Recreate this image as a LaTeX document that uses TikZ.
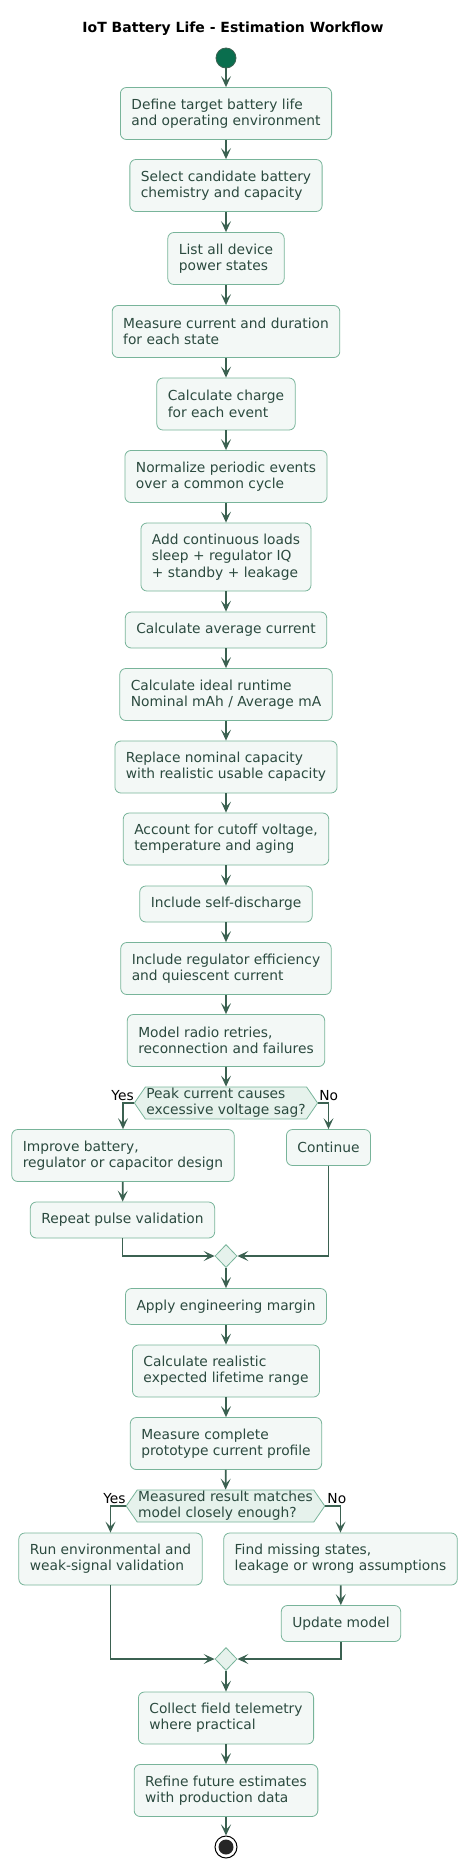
\documentclass[tikz,border=0pt]{standalone}
\usepackage{fontspec}
\setmainfont{DejaVu Sans}
\usepackage{xcolor}
\usetikzlibrary{arrows.meta,shapes.geometric,shapes.symbols}
\definecolor{boxline}{HTML}{78B49A}
\definecolor{boxfill}{HTML}{F3F8F6}
\definecolor{boxtext}{HTML}{2B4A3F}
\definecolor{flowline}{HTML}{3B6151}
\definecolor{decfill}{HTML}{E6F2EC}
\definecolor{startfill}{HTML}{0A6E4E}
\newcommand{\boxfont}{\fontsize{13.8pt}{16.3pt}\selectfont}
\tikzset{
  act/.style={draw=boxline, fill=boxfill, line width=0.8pt, rounded corners=6pt,
    text=boxtext, align=left, inner xsep=11pt, inner ysep=3pt,
    minimum height=36pt, font=\boxfont},
  acttwo/.style={act, minimum height=52pt},
  actthree/.style={act, minimum height=68pt},
  dec/.style={signal, signal to=west and east, signal pointer angle=111,
    draw=boxline, fill=decfill, line width=0.8pt, text=boxtext, align=left,
    inner xsep=1pt, inner ysep=1pt, minimum height=32pt, font=\boxfont},
  merge/.style={diamond, draw=boxline, fill=decfill, line width=0.8pt,
    minimum width=22pt, minimum height=23pt, inner sep=0pt},
  flow/.style={draw=flowline, line width=1.8pt,
    -{Stealth[length=11pt,width=10pt,inset=5pt]}},
  lbl/.style={font=\boxfont, text=black, inner sep=0pt}
}
\begin{document}
\begin{tikzpicture}[x=1pt,y=-1pt]
\useasboundingbox (0,0) rectangle (468,1868);
\node[lbl, font=\fontsize{14pt}{16pt}\selectfont\bfseries, anchor=base] (title) at (233,33) {IoT Battery Life - Estimation Workflow};
% start and main column
\node[circle, draw=flowline, fill=startfill, line width=0.8pt, minimum size=20pt, inner sep=0pt] (s0) at (226,58) {};
\node[acttwo] (a1) at (226,113.5) {Define target battery life\\and operating environment};
\node[acttwo] (a2) at (226,185.5) {Select candidate battery\\chemistry and capacity};
\node[acttwo] (a3) at (226,258.5) {List all device\\power states};
\node[acttwo] (a4) at (226,331.5) {Measure current and duration\\for each state};
\node[acttwo] (a5) at (226,404) {Calculate charge\\for each event};
\node[acttwo] (a6) at (226,476.5) {Normalize periodic events\\over a common cycle};
\node[actthree] (a7) at (226,557) {Add continuous loads\\sleep + regulator IQ\\+ standby + leakage};
\node[act] (a8) at (226,630) {Calculate average current};
\node[acttwo] (a9) at (226,694.5) {Calculate ideal runtime\\Nominal mAh / Average mA};
\node[acttwo] (a10) at (226,767) {Replace nominal capacity\\with realistic usable capacity};
\node[acttwo] (a11) at (226,839) {Account for cutoff voltage,\\temperature and aging};
\node[act] (a12) at (226,904) {Include self-discharge};
\node[acttwo] (a13) at (226,968.5) {Include regulator efficiency\\and quiescent current};
\node[acttwo] (a14) at (226,1040.5) {Model radio retries,\\reconnection and failures};
% first decision
\node[dec] (d1) at (226,1103) {Peak current causes\\excessive voltage sag?};
\node[lbl, anchor=base east] (y1) at ([yshift=3pt]d1.west) {Yes};
\node[lbl, anchor=base west] (n1) at ([xshift=1pt,yshift=3pt]d1.east) {No};
\node[acttwo] (a15) at (123,1155.5) {Improve battery,\\regulator or capacitor design};
\node[act] (a16) at (122.5,1220) {Repeat pulse validation};
\node[act] (a17) at (328.5,1147.5) {Continue};
\node[merge] (m1) at (226,1256) {};
\node[act] (a18) at (226,1306.5) {Apply engineering margin};
\node[acttwo] (a19) at (226,1371) {Calculate realistic\\expected lifetime range};
\node[acttwo] (a20) at (226,1443.5) {Measure complete\\prototype current profile};
% second decision
\node[dec] (d2) at (225.5,1506) {Measured result matches\\model closely enough?};
\node[lbl, anchor=base east] (y2) at ([yshift=3pt]d2.west) {Yes};
\node[lbl, anchor=base west] (n2) at ([xshift=2pt,yshift=3pt]d2.east) {No};
\node[acttwo] (a21) at (110.5,1559) {Run environmental and\\weak-signal validation};
\node[acttwo] (a22) at (340.5,1559) {Find missing states,\\leakage or wrong assumptions};
\node[act] (a23) at (341,1623.5) {Update model};
\node[merge] (m2) at (226,1659) {};
\node[acttwo] (a24) at (226,1718) {Collect field telemetry\\where practical};
\node[acttwo] (a25) at (226,1790.5) {Refine future estimates\\with production data};
\node[circle, draw=black, line width=1pt, fill=white, minimum size=22pt, inner sep=0pt] (e0) at (226,1847) {};
\node[circle, fill=black!85, minimum size=15pt, inner sep=0pt] (e1) at (e0) {};
% connectors
\foreach \a/\b in {s0/a1,a1/a2,a2/a3,a3/a4,a4/a5,a5/a6,a6/a7,a7/a8,a8/a9,a9/a10,a10/a11,a11/a12,a12/a13,a13/a14,a14/d1,a15/a16,m1/a18,a18/a19,a19/a20,a20/d2,a22/a23,m2/a24,a24/a25,a25/e0}
\draw[flow] (\a) -- (\b);
\draw[flow] (d1.west) -| (a15.north);
\draw[flow] (d1.east) -| (a17.north);
\draw[flow] (a16.south) |- (m1.west);
\draw[flow] (a17.south) |- (m1.east);
\draw[flow] (d2.west) -| (a21.north);
\draw[flow] (d2.east) -| (a22.north);
\draw[flow] (a21.south) |- (m2.west);
\draw[flow] (a23.south) |- (m2.east);
\end{tikzpicture}
\end{document}
